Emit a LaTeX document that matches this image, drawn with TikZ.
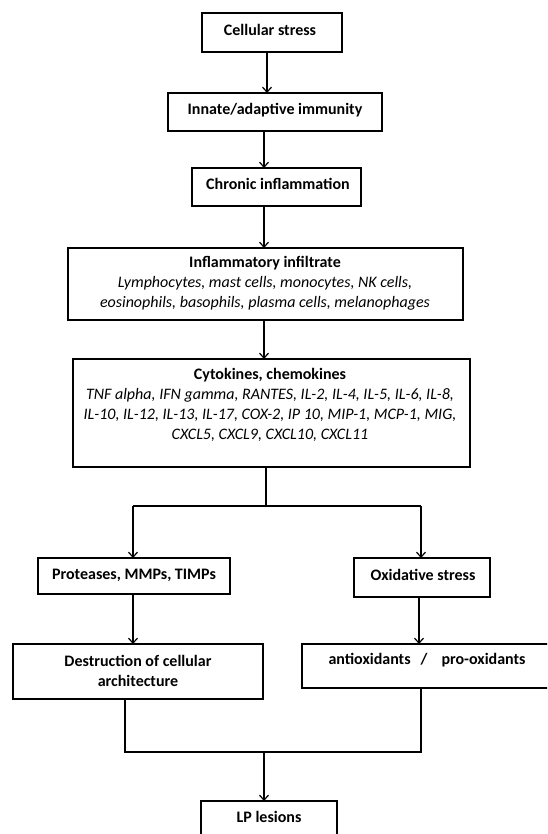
\documentclass[tikz,border=0pt]{standalone}
\usepackage{fontspec}
\setmainfont{Carlito}
\usetikzlibrary{arrows.meta}
\begin{document}
\begin{tikzpicture}[x=1pt,y=-1pt,
  box/.style={draw, line width=1.3pt, inner sep=0pt, outer sep=0pt},
  lbl/.style={inner sep=0pt, align=center, font=\fontsize{16}{20}\selectfont},
  conn/.style={line width=1.2pt},
  arr/.style={conn, -{Straight Barb[length=5pt,width=9pt,line width=1.2pt]}}]
\useasboundingbox (0,0) rectangle (547,834);
\clip (0,0) rectangle (547,834);
% boxes
\node[box, minimum width=140pt, minimum height=39pt] (b1) at (272,32.5) {};
\node[box, minimum width=214pt, minimum height=38pt] (b2) at (275,112) {};
\node[box, minimum width=169pt, minimum height=38pt] (b3) at (276.5,187) {};
\node[box, minimum width=395pt, minimum height=72pt] (b4) at (265.5,284) {};
\node[box, minimum width=397pt, minimum height=108pt] (b5) at (271.5,413) {};
\node[box, minimum width=192pt, minimum height=36pt] (b6) at (134,576) {};
\node[box, minimum width=136pt, minimum height=39pt] (b7) at (422,577.5) {};
\node[box, minimum width=250pt, minimum height=55pt] (b8) at (138,671.5) {};
\node[box, minimum width=250pt, minimum height=44pt] (b9) at (427,666) {};
\node[box, minimum width=136pt, minimum height=69pt] (b10) at (269,835.5) {};
% texts
\node[lbl] (t1) at (270,30) {\textbf{Cellular stress}};
\node[lbl] (t2) at (275,110) {\textbf{Innate/adaptive immunity}};
\node[lbl] (t3) at (278,184) {\textbf{Chronic inflammation}};
\node[lbl] (t4) at (265,283) {\textbf{Inflammatory infiltrate}\\
  \textit{Lymphocytes, mast cells, monocytes, NK cells,}\\
  \textit{eosinophils, basophils, plasma cells, melanophages}};
\node[lbl] (t5) at (270,405) {\textbf{Cytokines, chemokines}\\
  \textit{TNF alpha, IFN gamma, RANTES, IL-2, IL-4, IL-5, IL-6, IL-8,}\\
  \textit{IL-10, IL-12, IL-13, IL-17, COX-2, IP 10, MIP-1, MCP-1, MIG,}\\
  \textit{CXCL5, CXCL9, CXCL10, CXCL11}};
\node[lbl] (t6) at (134,575) {\textbf{Proteases, MMPs, TIMPs}};
\node[lbl] (t7) at (423,575) {\textbf{Oxidative stress}};
\node[lbl] (t8) at (138,671) {\textbf{Destruction of cellular}\\\textbf{architecture}};
\node[lbl] (t9) at (427,660) {\textbf{antioxidants\hspace{10pt}/\hspace{14pt}pro-oxidants}};
\node[lbl] (t10) at (269,817) {\textbf{LP lesions}};
% guide coordinates
\coordinate (xa) at (267,0);
\coordinate (xb) at (264,0);
\coordinate (j1) at (266,506);
\coordinate (jl) at (133,506);
\coordinate (jr) at (421,506);
\coordinate (xo) at (419,0);
\coordinate (kl) at (125,752);
\coordinate (kr) at (421,752);
\coordinate (km) at (264,752);
% connectors
\draw[arr] (b1.south -| xa) -- (b2.north -| xa);
\draw[arr] (b2.south -| xb) -- (b3.north -| xb);
\draw[arr] (b3.south -| xb) -- (b4.north -| xb);
\draw[arr] (b4.south -| xb) -- (b5.north -| xb);
\draw[conn] (b5.south -| j1) -- (j1);
\draw[conn] (jl) -- (jr);
\draw[arr] (jl) -- (jl |- b6.north);
\draw[arr] (jr) -- (jr |- b7.north);
\draw[arr] (b6.south -| jl) -- (b8.north -| jl);
\draw[arr] (b7.south -| xo) -- (b9.north -| xo);
\draw[conn] (b8.south -| kl) -- (kl) -- (kr) -- (b9.south -| kr);
\draw[arr] (km) -- (b10.north -| km);
\end{tikzpicture}
\end{document}
